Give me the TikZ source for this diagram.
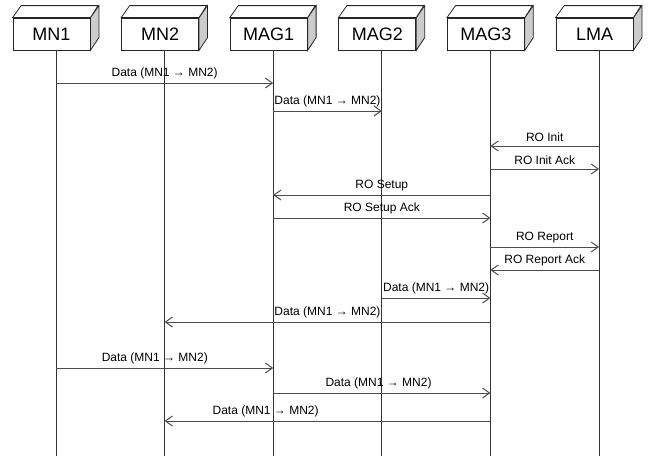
\documentclass[tikz,border=0pt]{standalone}
\usepackage{fontspec}
\setmainfont{Liberation Sans}
\usepackage{tikz}
\usetikzlibrary{arrows.meta}
\usetikzlibrary{positioning}
\tikzset{entity/.style={rectangle, draw=black!85, fill=white, line width=0.8pt, minimum width=77pt, minimum height=32pt, inner sep=0pt, font=\fontsize{18}{20}\selectfont}}
\tikzset{lifeline/.style={draw=black!80, line width=0.8pt}}
\tikzset{msg/.style={draw=black!70, line width=1pt, -{Straight Barb[length=7pt,width=10pt]}}}
\tikzset{msglabel/.style={font=\fontsize{12}{14}\selectfont, above=3pt, inner sep=1pt}}

\begin{document}
\begin{tikzpicture}[x=1pt,y=-1pt]
    \useasboundingbox (0,0) rectangle (652,456);

    \foreach \name/\txt [count=\i from 0] in {mn1/MN1, mn2/MN2, mag1/MAG1, mag2/MAG2, mag3/MAG3, lma/LMA}{
        \node [entity](\name) at (51.5+108.6*\i, 34){\txt};
        % box depth
        \filldraw[fill=gray!40, draw=black!85, line width=0.8pt] (\name.north east) -- ++(8.5,-12) -- ++(0,32) -- (\name.south east) -- cycle;
        \filldraw[fill=white, draw=black!85, line width=0.8pt] (\name.north west) -- ++(8.5,-12) -- ++(77,0) -- (\name.north east) -- cycle;
        \coordinate (\name-top) at (56+108.6*\i, 50);
        \coordinate (\name-bot) at (56+108.6*\i, 456);
        \draw[lifeline] (\name-top) -- (\name-bot);
    }

    \draw[msg] (mn1-top |- 0,83) -- (mag1-top |- 0,83) node[msglabel, midway]{Data (MN1 → MN2)};
    \draw[msg] (mag1-top |- 0,111) -- (mag2-top |- 0,111) node[msglabel, midway]{Data (MN1 → MN2)};
    \draw[msg] (lma-top |- 0,146) -- (mag3-top |- 0,146) node[msglabel, midway]{RO Init};
    \draw[msg] (mag3-top |- 0,169) -- (lma-top |- 0,169) node[msglabel, midway]{RO Init Ack};
    \draw[msg] (mag3-top |- 0,195) -- (mag1-top |- 0,195) node[msglabel, midway]{RO Setup};
    \draw[msg] (mag1-top |- 0,218) -- (mag3-top |- 0,218) node[msglabel, midway]{RO Setup Ack};
    \draw[msg] (mag3-top |- 0,247) -- (lma-top |- 0,247) node[msglabel, midway]{RO Report};
    \draw[msg] (lma-top |- 0,270) -- (mag3-top |- 0,270) node[msglabel, midway]{RO Report Ack};
    \draw[msg] (mag2-top |- 0,298) -- (mag3-top |- 0,298) node[msglabel, midway]{Data (MN1 → MN2)};
    \draw[msg] (mag3-top |- 0,322) -- (mn2-top |- 0,322) node[msglabel, midway]{Data (MN1 → MN2)};
    \draw[msg] (mn1-top |- 0,368) -- (mag1-top |- 0,368) node[msglabel, pos=.455]{Data (MN1 → MN2)};
    \draw[msg] (mag1-top |- 0,393) -- (mag3-top |- 0,393) node[msglabel, pos=.485]{Data (MN1 → MN2)};
    \draw[msg] (mag3-top |- 0,421) -- (mn2-top |- 0,421) node[msglabel, pos=.69]{Data (MN1 → MN2)};
\end{tikzpicture}
\end{document}
